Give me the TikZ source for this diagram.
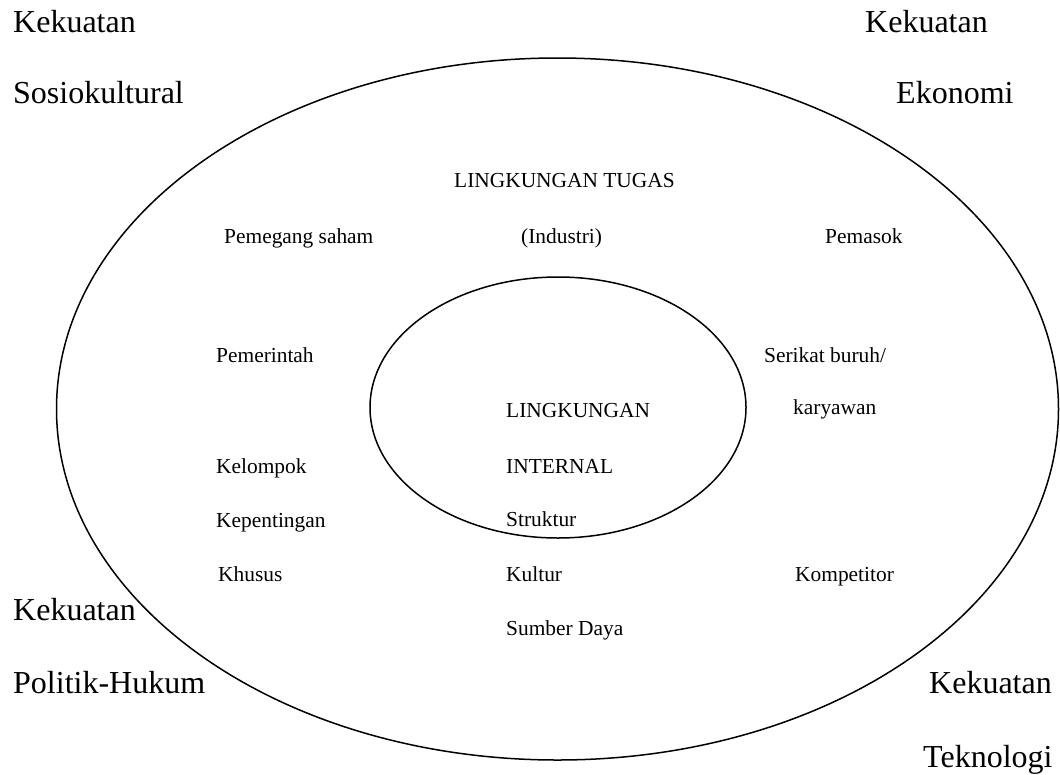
\documentclass[tikz,border=0pt]{standalone}
\usepackage{fontspec}
\setmainfont{LiberationSerif}[Extension=.ttf,UprightFont=*-Regular,BoldFont=*-Bold,ItalicFont=*-Italic,BoldItalicFont=*-BoldItalic]
\usetikzlibrary{shapes.geometric}
\begin{document}
\begin{tikzpicture}[x=1pt,y=-1pt,
  ring/.style={draw,ellipse,line width=1.5pt,inner sep=0pt},
  force/.style={anchor=base west,inner sep=0pt,font=\rmfamily\fontsize{32}{38}\selectfont},
  item/.style={anchor=base west,inner sep=0pt,font=\rmfamily\fontsize{21.4}{26}\selectfont}]
\useasboundingbox (0,0) rectangle (1060,774);
% environment rings
\node[ring,minimum width=1002pt,minimum height=702pt] (outer) at (557.5,409) {};
\node[ring,minimum width=376pt,minimum height=261pt] (inner) at (558,407.5) {};
% external forces in the corners
\node[force] (sk1) at (13,32) {Kekuatan};
\node[force] (sk2) at (13,103) {Sosiokultural};
\node[force] (ek1) at (865,32) {Kekuatan};
\node[force] (ek2) at (896,103) {Ekonomi};
\node[force] (ph1) at (13,620) {Kekuatan};
\node[force] (ph2) at (13,693) {Politik-Hukum};
\node[force] (tk1) at (929,693) {Kekuatan};
\node[force] (tk2) at (923,767) {Teknologi};
% task environment
\node[item] (tugas) at (454,187) {LINGKUNGAN TUGAS};
\node[item] (saham) at (224,243) {Pemegang saham};
\node[item] (industri) at (521,243) {(Industri)};
\node[item] (pemasok) at (825,243) {Pemasok};
\node[item] (pemerintah) at (216,362) {Pemerintah};
\node[item] (serikat) at (764,362) {Serikat buruh/};
\node[item] (karyawan) at (793,414) {karyawan};
\node[item] (kelompok) at (216,473) {Kelompok};
\node[item] (kepentingan) at (216,527) {Kepentingan};
\node[item] (khusus) at (218,581) {Khusus};
\node[item] (kompetitor) at (795,581) {Kompetitor};
% internal environment
\node[item] (internal1) at (506,417) {LINGKUNGAN};
\node[item] (internal2) at (506,473) {INTERNAL};
\node[item] (struktur) at (506,526) {Struktur};
\node[item] (kultur) at (506,581) {Kultur};
\node[item] (sumber) at (506,635) {Sumber Daya};
\end{tikzpicture}
\end{document}
